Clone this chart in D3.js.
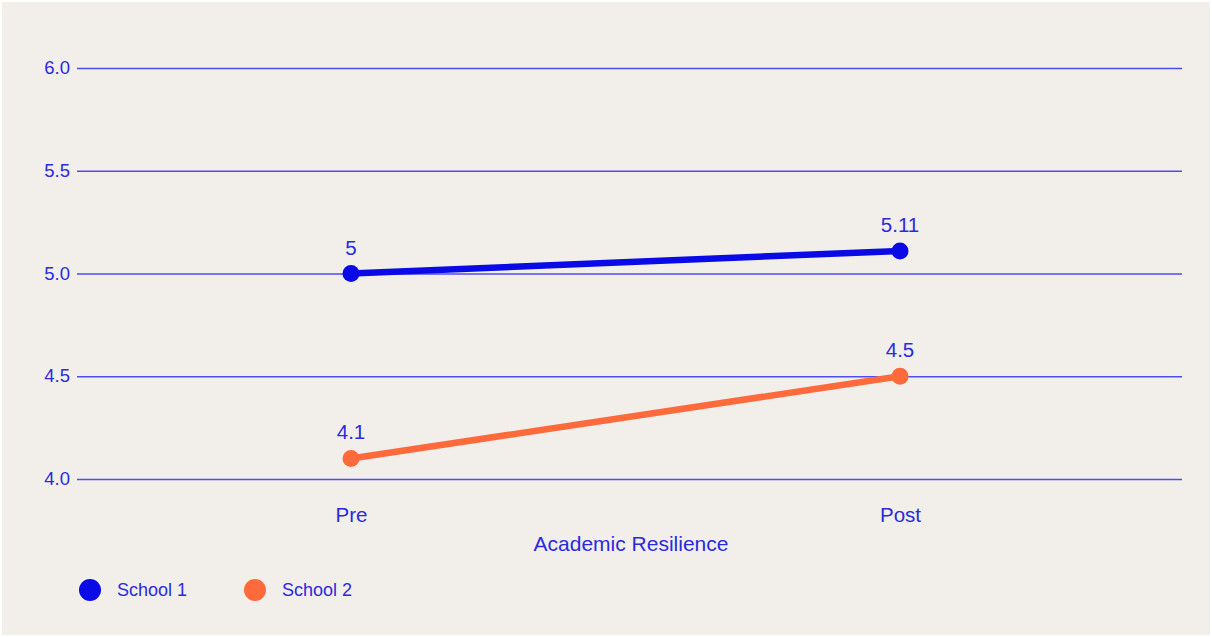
<!DOCTYPE html>
<html>
<head>
<meta charset="utf-8">
<script src="https://cdn.jsdelivr.net/npm/d3@7"></script>
<style>
  body { margin: 0; background: #fff; }
  text { font-family: "Liberation Sans", Arial, sans-serif; }
</style>
</head>
<body>
<svg id="chart" width="1212" height="637"></svg>
<script>
// data
const categories = ["Pre", "Post"]
const seriesNames = ["School 1", "School 2"]
const school1 = [5, 5.11]
const school2 = [4.1, 4.5]
const yTicks = [4.0, 4.5, 5.0, 5.5, 6.0]

const colors = ["#0a0ae6", "#ff6a3d"]
const textColor = "#2a2ae0"

let svg = d3.select("#chart")

svg.append("rect")
    .attr("x", 2).attr("y", 2)
    .attr("width", 1208).attr("height", 633)
    .attr("fill", "#f2efea")

let x = d3.scalePoint()
    .domain(categories)
    .range([76.5, 1174.5])
    .padding(0.5)

let y = d3.scaleLinear()
    .domain([4, 6])
    .range([479, 68])

// gridlines + tick labels
let yAxis = d3.axisLeft(y)
    .tickValues(yTicks)
    .tickFormat(d3.format(".1f"))
    .tickSize(-(1182 - 77))
    .tickPadding(7)

let gy = svg.append("g")
    .attr("transform", "translate(77,0)")
    .call(yAxis)
gy.select(".domain").remove()
gy.selectAll(".tick line")
    .attr("stroke", "#4c4cf0")
    .attr("stroke-width", 1.3)
gy.selectAll(".tick text")
    .attr("fill", textColor)
    .attr("font-size", 18.5)
    .attr("font-family", "Liberation Sans, Arial, sans-serif")
    .attr("dy", "0.3em")

// x labels
let xAxis = d3.axisBottom(x).tickSize(0).tickPadding(0)
let gx = svg.append("g")
    .attr("transform", "translate(0,479)")
    .call(xAxis)
gx.select(".domain").remove()
gx.selectAll(".tick text")
    .attr("fill", textColor)
    .attr("font-size", 20.5)
    .attr("font-family", "Liberation Sans, Arial, sans-serif")
    .attr("dy", "0")
    .attr("y", 43)

svg.append("text")
    .attr("x", 631)
    .attr("y", 551)
    .attr("text-anchor", "middle")
    .attr("fill", textColor)
    .attr("font-size", 21)
    .text("Academic Resilience")

// lines
let allSeries = [school1, school2]
let line = d3.line()
    .x((d, i) => x(categories[i]))
    .y((d) => y(d))

allSeries.forEach((vals, s) => {
    svg.append("path")
        .attr("d", line(vals))
        .attr("fill", "none")
        .attr("stroke", colors[s])
        .attr("stroke-width", 6.5)

    vals.forEach((v, i) => {
        svg.append("circle")
            .attr("cx", x(categories[i]))
            .attr("cy", y(v))
            .attr("r", 8.5)
            .attr("fill", colors[s])

        svg.append("text")
            .attr("x", x(categories[i]))
            .attr("y", y(v) - 19)
            .attr("text-anchor", "middle")
            .attr("fill", textColor)
            .attr("font-size", 20.5)
            .text(v)
    })
})

// legend
let legendX = [90, 255]
seriesNames.forEach((name, s) => {
    svg.append("circle")
        .attr("cx", legendX[s])
        .attr("cy", 590)
        .attr("r", 11)
        .attr("fill", colors[s])
    svg.append("text")
        .attr("x", legendX[s] + 27)
        .attr("y", 596)
        .attr("fill", textColor)
        .attr("font-size", 18)
        .text(name)
})
</script>
</body>
</html>
